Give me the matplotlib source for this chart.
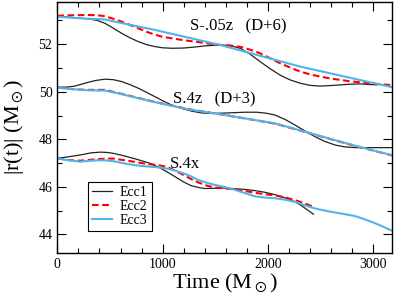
import matplotlib
matplotlib.use("Agg")
import matplotlib.pyplot as plt
from matplotlib.ticker import MultipleLocator

plt.rcParams['font.family'] = ['Liberation Serif', 'DejaVu Serif']
plt.rcParams['mathtext.fontset'] = 'stix'

# ---- data: S-.05z (D+6) ----
top_ecc1_t = [0, 150, 294, 380, 453, 530, 611, 690, 769, 850, 928, 1000, 1086, 1200, 1300, 1400, 1500, 1593, 1660, 1735, 1830, 1925, 2020, 2115, 2210, 2305, 2400, 2495, 2590, 2685, 2780, 2875, 2950, 3033]
top_ecc1_r = [53.18, 53.12, 53.07, 53.0, 52.88, 52.68, 52.46, 52.27, 52.11, 51.98, 51.9, 51.85, 51.83, 51.84, 51.88, 51.93, 51.96, 51.96, 51.92, 51.83, 51.58, 51.27, 50.97, 50.7, 50.5, 50.36, 50.27, 50.24, 50.26, 50.29, 50.32, 50.33, 50.31, 50.29]
top_ecc2_t = [0, 150, 294, 380, 437, 520, 611, 690, 769, 850, 928, 1000, 1086, 1200, 1308, 1420, 1545, 1640, 1735, 1830, 1925, 2020, 2115, 2210, 2305, 2400, 2495, 2590, 2685, 2780, 2875, 3000, 3180]
top_ecc2_r = [53.2, 53.22, 53.23, 53.22, 53.19, 53.09, 52.95, 52.81, 52.67, 52.52, 52.4, 52.31, 52.25, 52.17, 52.11, 52.04, 51.97, 51.95, 51.89, 51.77, 51.62, 51.41, 51.2, 51.02, 50.85, 50.73, 50.64, 50.56, 50.5, 50.44, 50.4, 50.34, 50.28]
top_ecc3_t = [0, 150, 294, 380, 453, 600, 928, 1545, 2305, 3180]
top_ecc3_r = [53.16, 53.11, 53.07, 53.06, 53.04, 52.9, 52.6, 51.97, 51.06, 50.19]

# ---- data: S.4z (D+3) ----
mid_ecc1_t = [0, 100, 168, 230, 294, 370, 453, 530, 611, 690, 769, 850, 928, 1010, 1086, 1181, 1280, 1370, 1450, 1560, 1672, 1780, 1893, 1980, 2067, 2160, 2257, 2350, 2447, 2540, 2637, 2730, 2827, 3000, 3180]
mid_ecc1_r = [50.19, 50.2, 50.24, 50.32, 50.4, 50.48, 50.53, 50.51, 50.43, 50.3, 50.15, 49.97, 49.79, 49.6, 49.44, 49.3, 49.18, 49.11, 49.09, 49.1, 49.12, 49.14, 49.14, 49.1, 49.02, 48.84, 48.6, 48.35, 48.11, 47.91, 47.76, 47.68, 47.65, 47.65, 47.65]
mid_ecc2_t = [0, 168, 300, 453, 611, 928, 1244, 1593, 2067, 2827, 3180]
mid_ecc2_r = [50.18, 50.1, 50.08, 50.08, 49.91, 49.57, 49.27, 49.02, 48.66, 47.72, 47.32]
mid_ecc3_t = [0, 168, 300, 453, 611, 928, 1244, 1593, 2067, 2827, 3180]
mid_ecc3_r = [50.17, 50.1, 50.06, 50.05, 49.9, 49.56, 49.26, 49.02, 48.67, 47.73, 47.33]

# ---- data: S.4x ----
bot_ecc1_t = [0, 100, 216, 320, 405, 470, 532, 620, 722, 800, 880, 960, 1039, 1120, 1197, 1270, 1355, 1403, 1500, 1593, 1690, 1782, 1880, 1972, 2050, 2131, 2200, 2257, 2310, 2352, 2431]
bot_ecc1_r = [47.2, 47.26, 47.34, 47.43, 47.46, 47.45, 47.41, 47.32, 47.2, 47.1, 46.99, 46.83, 46.64, 46.42, 46.21, 46.05, 45.96, 45.93, 45.94, 45.95, 45.92, 45.89, 45.84, 45.77, 45.69, 45.58, 45.48, 45.37, 45.23, 45.1, 44.85]
bot_ecc2_t = [0, 100, 216, 320, 405, 470, 532, 620, 722, 800, 880, 960, 1039, 1120, 1197, 1270, 1330, 1420, 1498, 1600, 1688, 1780, 1877, 1970, 2067, 2160, 2257, 2340, 2431]
bot_ecc2_r = [47.2, 47.13, 47.1, 47.14, 47.17, 47.19, 47.19, 47.13, 47.06, 47.0, 46.95, 46.91, 46.84, 46.68, 46.5, 46.33, 46.2, 46.05, 45.97, 45.93, 45.89, 45.83, 45.75, 45.69, 45.64, 45.56, 45.44, 45.32, 45.16]
bot_ecc3_t = [0, 100, 216, 320, 405, 470, 532, 620, 722, 800, 880, 960, 1039, 1120, 1197, 1270, 1330, 1420, 1498, 1600, 1688, 1780, 1877, 1970, 2067, 2160, 2257, 2350, 2447, 2540, 2637, 2730, 2827, 2920, 3017, 3100, 3180]
bot_ecc3_r = [47.2, 47.12, 47.06, 47.1, 47.12, 47.11, 47.08, 47.0, 46.92, 46.88, 46.85, 46.82, 46.77, 46.68, 46.57, 46.44, 46.3, 46.17, 46.08, 45.98, 45.87, 45.74, 45.6, 45.55, 45.52, 45.46, 45.37, 45.22, 45.09, 45.0, 44.92, 44.85, 44.77, 44.63, 44.47, 44.31, 44.15]

labels = ["Ecc1", "Ecc2", "Ecc3"]
annotations = ["S-.05z   (D+6)", "S.4z   (D+3)", "S.4x"]

blue = '#4fb4ea'
fig = plt.figure(figsize=(3.95, 2.97), dpi=100)
ax = fig.add_axes([0.1451, 0.1492, 0.8481, 0.8451])

groups = [
    (top_ecc1_t, top_ecc1_r, top_ecc2_t, top_ecc2_r, top_ecc3_t, top_ecc3_r),
    (mid_ecc1_t, mid_ecc1_r, mid_ecc2_t, mid_ecc2_r, mid_ecc3_t, mid_ecc3_r),
    (bot_ecc1_t, bot_ecc1_r, bot_ecc2_t, bot_ecc2_r, bot_ecc3_t, bot_ecc3_r),
]
for i, (t1, r1, t2, r2, t3, r3) in enumerate(groups):
    ax.plot(t1, r1, color='#222222', lw=0.9, label=labels[0] if i == 0 else None)
    ax.plot(t2, r2, color='#ff0000', lw=1.5, dashes=(3.2, 1.7), label=labels[1] if i == 0 else None)
    ax.plot(t3, r3, color=blue, lw=1.5, label=labels[2] if i == 0 else None)

ax.text(1262, 52.6, annotations[0], fontsize=12, va='baseline', ha='left')
ax.text(1102, 49.52, annotations[1], fontsize=12, va='baseline', ha='left')
ax.text(1070, 46.78, annotations[2], fontsize=12, va='baseline', ha='left')

ax.set_xlim(0, 3180)
ax.set_ylim(43.23, 53.79)
ax.xaxis.set_major_locator(MultipleLocator(1000))
ax.xaxis.set_minor_locator(MultipleLocator(200))
ax.yaxis.set_major_locator(MultipleLocator(2))
ax.yaxis.set_minor_locator(MultipleLocator(1))
ax.tick_params(which='both', direction='in', top=True, right=True, labelsize=10, width=0.8)
ax.tick_params(which='major', length=6.5)
ax.tick_params(which='minor', length=3.5)
for s in ax.spines.values():
    s.set_linewidth(1.0)

ax.set_xlabel(r'Time (M$_\odot$)', fontsize=16, labelpad=1)
ax.set_ylabel(r'|r(t)| (M$_\odot$)', fontsize=16, labelpad=9)

leg = ax.legend(loc='upper left', bbox_to_anchor=(0.0916, 0.2817), borderaxespad=0,
                fontsize=10, fancybox=False, framealpha=1, edgecolor='black',
                handlelength=1.4, handletextpad=0.6, labelspacing=0.05, borderpad=0.3)
leg.get_frame().set_linewidth(0.8)

fig.savefig('out.png', dpi=100)
